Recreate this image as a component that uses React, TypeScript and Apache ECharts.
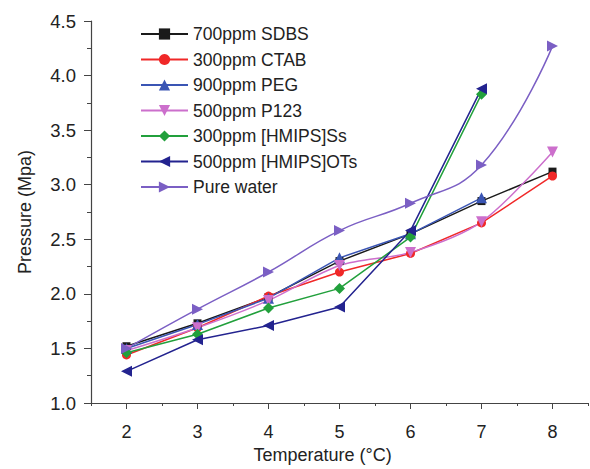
import React, { useEffect, useRef } from "react";
import * as echarts from "echarts";

const seriesNames = [
  "700ppm SDBS",
  "300ppm CTAB",
  "900ppm PEG",
  "500ppm P123",
  "300ppm [HMIPS]Ss",
  "500ppm [HMIPS]OTs",
  "Pure water",
];

const sdbs = [[2, 1.52], [3, 1.73], [4, 1.97], [5, 2.30], [6, 2.55], [7, 2.85], [8, 3.12]];
const ctab = [[2, 1.44], [3, 1.69], [4, 1.98], [5, 2.20], [6, 2.37], [7, 2.65], [8, 3.08]];
const peg = [[2, 1.50], [3, 1.72], [4, 1.96], [5, 2.33], [6, 2.55], [7, 2.88]];
const p123 = [[2, 1.48], [3, 1.69], [4, 1.94], [5, 2.26], [6, 2.38], [7, 2.66], [8, 3.30]];
const ss = [[2, 1.46], [3, 1.63], [4, 1.87], [5, 2.05], [6, 2.52], [7, 3.83]];
const ots = [[2, 1.29], [3, 1.58], [4, 1.71], [5, 1.88], [6, 2.58], [7, 3.88]];
const pure = [[2, 1.50], [3, 1.86], [4, 2.20], [5, 2.58], [6, 2.83], [7, 3.18], [8, 4.27]];

const xMajorTicks = [2, 3, 4, 5, 6, 7, 8];
const xMinorTicks = [1.5, 2.5, 3.5, 4.5, 5.5, 6.5, 7.5, 8.5];

const FONT = "Liberation Sans";

export default function App() {
  const ref = useRef<HTMLDivElement>(null);
  useEffect(() => {
    const chart = echarts.init(ref.current!, null, { renderer: "svg" });
    const mk = (
      name: string,
      data: number[][],
      color: string,
      symbol: string,
      rotate: number,
      smooth: number | boolean,
      size: number
    ) => ({
      name,
      type: "line",
      data,
      smooth,
      symbol,
      symbolRotate: rotate,
      symbolSize: size,
      xAxisIndex: 0,
      lineStyle: { color, width: 1.5 },
      itemStyle: { color },
    });
    chart.setOption({
      animation: false,
      backgroundColor: "#fff",
      textStyle: { fontFamily: FONT },
      grid: { left: 91, top: 21, width: 497, height: 382 },
      legend: {
        orient: "vertical",
        left: 135,
        top: 20,
        itemWidth: 47,
        itemHeight: 14,
        itemGap: 7.5,
        textStyle: { fontSize: 17.5, color: "#222", fontFamily: FONT },
        data: seriesNames,
      },
      xAxis: [
        {
          type: "value",
          min: 1.5,
          max: 8.5,
          name: "Temperature (°C)",
          nameLocation: "middle",
          nameGap: 52,
          nameTextStyle: { fontSize: 18, color: "#222", padding: [0, 34, 0, 0], verticalAlign: "middle" },
          axisLine: { lineStyle: { color: "#444", width: 1.2 } },
          axisTick: { customValues: xMajorTicks, length: 6, lineStyle: { color: "#444" } },
          axisLabel: { customValues: xMajorTicks, fontSize: 18, color: "#222", margin: 20 },
          splitLine: { show: false },
        },
        {
          type: "value",
          min: 1.5,
          max: 8.5,
          position: "bottom",
          axisLine: { show: false },
          axisTick: { customValues: xMinorTicks, length: 3, lineStyle: { color: "#444" } },
          axisLabel: { show: false },
          splitLine: { show: false },
        },
      ],
      yAxis: {
        type: "value",
        min: 1,
        max: 4.5,
        interval: 0.5,
        name: "Pressure (Mpa)",
        nameLocation: "middle",
        nameGap: 57,
        nameTextStyle: { fontSize: 18, color: "#222" },
        axisLine: { show: true, lineStyle: { color: "#444", width: 1.2 } },
        axisTick: { show: true, length: 7, lineStyle: { color: "#444" } },
        minorTick: { show: true, splitNumber: 2, length: 4, lineStyle: { color: "#444" } },
        axisLabel: {
          fontSize: 18.5,
          color: "#222",
          margin: 15,
          formatter: (v: number) => v.toFixed(1),
        },
        splitLine: { show: false },
      },
      series: [
        mk(seriesNames[0], sdbs, "#1a1a1a", "rect", 0, false, 8),
        mk(seriesNames[1], ctab, "#f02828", "circle", 0, false, 9),
        mk(seriesNames[2], peg, "#3a55b4", "triangle", 0, false, 11),
        mk(seriesNames[3], p123, "#cc6fcc", "triangle", 180, 0.3, 11),
        mk(seriesNames[4], ss, "#22a03c", "diamond", 0, false, 11),
        mk(seriesNames[5], ots, "#23238f", "triangle", 90, false, 11),
        mk(seriesNames[6], pure, "#7b5fc4", "triangle", -90, 0.45, 11),
      ],
    });
    return () => chart.dispose();
  }, []);
  return <div ref={ref} style={{ width: 590, height: 469, position: "absolute", left: 0, top: 0 }} />;
}
